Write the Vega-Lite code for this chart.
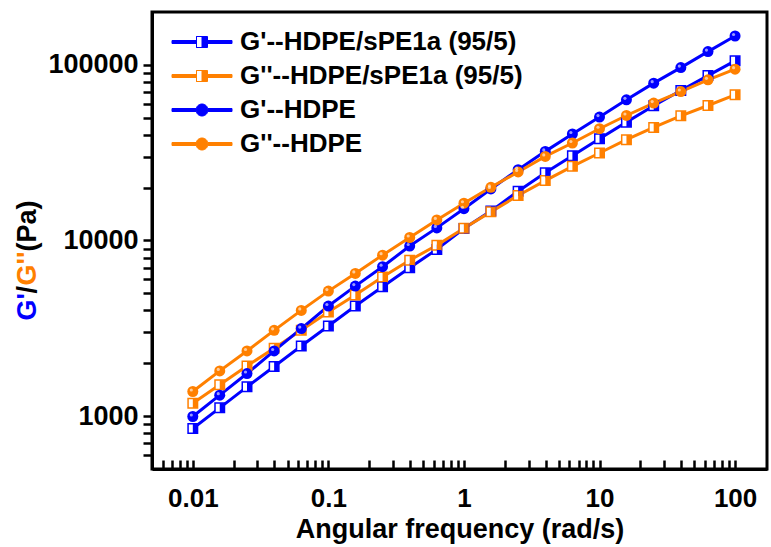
{
  "$schema": "https://vega.github.io/schema/vega-lite/v6.json",
  "autosize": {"type": "none"},
  "padding": {"left": 152, "top": 12, "right": 4, "bottom": 78},
  "width": 615,
  "height": 457,
  "background": "white",
  "config": {
    "view": {"stroke": "black", "strokeWidth": 3},
    "axis": {
      "domainColor": "black", "domainWidth": 3,
      "labelFont": "Liberation Sans", "labelFontWeight": "bold", "labelFontSize": 26, "labelColor": "black",
      "titleFont": "Liberation Sans", "titleFontWeight": "bold", "titleFontSize": 27, "titleColor": "black",
      "grid": false
    },
    "legend": {"labelFont": "Liberation Sans", "labelFontWeight": "bold", "labelFontSize": 26, "labelColor": "black"}
  },
  "datasets": {
    "d": [
      {"f":0.01,"v":851,"s":"G'--HDPE/sPE1a (95/5)","m":"sq"},
      {"f":0.0158,"v":1115,"s":"G'--HDPE/sPE1a (95/5)","m":"sq"},
      {"f":0.0251,"v":1468,"s":"G'--HDPE/sPE1a (95/5)","m":"sq"},
      {"f":0.0398,"v":1915,"s":"G'--HDPE/sPE1a (95/5)","m":"sq"},
      {"f":0.0631,"v":2510,"s":"G'--HDPE/sPE1a (95/5)","m":"sq"},
      {"f":0.1,"v":3260,"s":"G'--HDPE/sPE1a (95/5)","m":"sq"},
      {"f":0.158,"v":4236,"s":"G'--HDPE/sPE1a (95/5)","m":"sq"},
      {"f":0.251,"v":5460,"s":"G'--HDPE/sPE1a (95/5)","m":"sq"},
      {"f":0.398,"v":7000,"s":"G'--HDPE/sPE1a (95/5)","m":"sq"},
      {"f":0.631,"v":8900,"s":"G'--HDPE/sPE1a (95/5)","m":"sq"},
      {"f":1,"v":11700,"s":"G'--HDPE/sPE1a (95/5)","m":"sq"},
      {"f":1.58,"v":14700,"s":"G'--HDPE/sPE1a (95/5)","m":"sq"},
      {"f":2.51,"v":19100,"s":"G'--HDPE/sPE1a (95/5)","m":"sq"},
      {"f":3.98,"v":24300,"s":"G'--HDPE/sPE1a (95/5)","m":"sq"},
      {"f":6.31,"v":30400,"s":"G'--HDPE/sPE1a (95/5)","m":"sq"},
      {"f":10,"v":38000,"s":"G'--HDPE/sPE1a (95/5)","m":"sq"},
      {"f":15.8,"v":47200,"s":"G'--HDPE/sPE1a (95/5)","m":"sq"},
      {"f":25.1,"v":58500,"s":"G'--HDPE/sPE1a (95/5)","m":"sq"},
      {"f":39.8,"v":71400,"s":"G'--HDPE/sPE1a (95/5)","m":"sq"},
      {"f":63.1,"v":86900,"s":"G'--HDPE/sPE1a (95/5)","m":"sq"},
      {"f":100,"v":105400,"s":"G'--HDPE/sPE1a (95/5)","m":"sq"},
      {"f":0.01,"v":1185,"s":"G''--HDPE/sPE1a (95/5)","m":"sq"},
      {"f":0.0158,"v":1507,"s":"G''--HDPE/sPE1a (95/5)","m":"sq"},
      {"f":0.0251,"v":1931,"s":"G''--HDPE/sPE1a (95/5)","m":"sq"},
      {"f":0.0398,"v":2434,"s":"G''--HDPE/sPE1a (95/5)","m":"sq"},
      {"f":0.0631,"v":3080,"s":"G''--HDPE/sPE1a (95/5)","m":"sq"},
      {"f":0.1,"v":3915,"s":"G''--HDPE/sPE1a (95/5)","m":"sq"},
      {"f":0.158,"v":4890,"s":"G''--HDPE/sPE1a (95/5)","m":"sq"},
      {"f":0.251,"v":6190,"s":"G''--HDPE/sPE1a (95/5)","m":"sq"},
      {"f":0.398,"v":7720,"s":"G''--HDPE/sPE1a (95/5)","m":"sq"},
      {"f":0.631,"v":9400,"s":"G''--HDPE/sPE1a (95/5)","m":"sq"},
      {"f":1,"v":11750,"s":"G''--HDPE/sPE1a (95/5)","m":"sq"},
      {"f":1.58,"v":14560,"s":"G''--HDPE/sPE1a (95/5)","m":"sq"},
      {"f":2.51,"v":18030,"s":"G''--HDPE/sPE1a (95/5)","m":"sq"},
      {"f":3.98,"v":21930,"s":"G''--HDPE/sPE1a (95/5)","m":"sq"},
      {"f":6.31,"v":26430,"s":"G''--HDPE/sPE1a (95/5)","m":"sq"},
      {"f":10,"v":31500,"s":"G''--HDPE/sPE1a (95/5)","m":"sq"},
      {"f":15.8,"v":37500,"s":"G''--HDPE/sPE1a (95/5)","m":"sq"},
      {"f":25.1,"v":44000,"s":"G''--HDPE/sPE1a (95/5)","m":"sq"},
      {"f":39.8,"v":51300,"s":"G''--HDPE/sPE1a (95/5)","m":"sq"},
      {"f":63.1,"v":58700,"s":"G''--HDPE/sPE1a (95/5)","m":"sq"},
      {"f":100,"v":67500,"s":"G''--HDPE/sPE1a (95/5)","m":"sq"},
      {"f":0.01,"v":995,"s":"G'--HDPE","m":"ci"},
      {"f":0.0158,"v":1316,"s":"G'--HDPE","m":"ci"},
      {"f":0.0251,"v":1748,"s":"G'--HDPE","m":"ci"},
      {"f":0.0398,"v":2350,"s":"G'--HDPE","m":"ci"},
      {"f":0.0631,"v":3150,"s":"G'--HDPE","m":"ci"},
      {"f":0.1,"v":4236,"s":"G'--HDPE","m":"ci"},
      {"f":0.158,"v":5500,"s":"G'--HDPE","m":"ci"},
      {"f":0.251,"v":7093,"s":"G'--HDPE","m":"ci"},
      {"f":0.398,"v":9300,"s":"G'--HDPE","m":"ci"},
      {"f":0.631,"v":11800,"s":"G'--HDPE","m":"ci"},
      {"f":1,"v":15170,"s":"G'--HDPE","m":"ci"},
      {"f":1.58,"v":19660,"s":"G'--HDPE","m":"ci"},
      {"f":2.51,"v":25300,"s":"G'--HDPE","m":"ci"},
      {"f":3.98,"v":32170,"s":"G'--HDPE","m":"ci"},
      {"f":6.31,"v":40400,"s":"G'--HDPE","m":"ci"},
      {"f":10,"v":50450,"s":"G'--HDPE","m":"ci"},
      {"f":15.8,"v":63250,"s":"G'--HDPE","m":"ci"},
      {"f":25.1,"v":78700,"s":"G'--HDPE","m":"ci"},
      {"f":39.8,"v":96500,"s":"G'--HDPE","m":"ci"},
      {"f":63.1,"v":119000,"s":"G'--HDPE","m":"ci"},
      {"f":100,"v":146000,"s":"G'--HDPE","m":"ci"},
      {"f":0.01,"v":1381,"s":"G''--HDPE","m":"ci"},
      {"f":0.0158,"v":1809,"s":"G''--HDPE","m":"ci"},
      {"f":0.0251,"v":2350,"s":"G''--HDPE","m":"ci"},
      {"f":0.0398,"v":3080,"s":"G''--HDPE","m":"ci"},
      {"f":0.0631,"v":4000,"s":"G''--HDPE","m":"ci"},
      {"f":0.1,"v":5150,"s":"G''--HDPE","m":"ci"},
      {"f":0.158,"v":6493,"s":"G''--HDPE","m":"ci"},
      {"f":0.251,"v":8255,"s":"G''--HDPE","m":"ci"},
      {"f":0.398,"v":10400,"s":"G''--HDPE","m":"ci"},
      {"f":0.631,"v":13100,"s":"G''--HDPE","m":"ci"},
      {"f":1,"v":16300,"s":"G''--HDPE","m":"ci"},
      {"f":1.58,"v":20080,"s":"G''--HDPE","m":"ci"},
      {"f":2.51,"v":24560,"s":"G''--HDPE","m":"ci"},
      {"f":3.98,"v":30100,"s":"G''--HDPE","m":"ci"},
      {"f":6.31,"v":35900,"s":"G''--HDPE","m":"ci"},
      {"f":10,"v":43300,"s":"G''--HDPE","m":"ci"},
      {"f":15.8,"v":51500,"s":"G''--HDPE","m":"ci"},
      {"f":25.1,"v":60600,"s":"G''--HDPE","m":"ci"},
      {"f":39.8,"v":70500,"s":"G''--HDPE","m":"ci"},
      {"f":63.1,"v":82200,"s":"G''--HDPE","m":"ci"},
      {"f":100,"v":94500,"s":"G''--HDPE","m":"ci"}
    ]
  },
  "data": {"name": "d"},
  "resolve": {"axis": {"y": "independent"}},
  "layer": [
    {
      "mark": {"type": "line", "strokeWidth": 3},
      "encoding": {
        "x": {
          "field": "f", "type": "quantitative",
          "scale": {"type": "log", "domain": [0.005, 172], "nice": false},
          "axis": {
            "orient": "bottom",
            "ticks": true, "tickColor": "black", "tickWidth": 2.5,
            "title": "Angular frequency (rad/s)",
            "titleY": 68, "titleBaseline": "alphabetic",
            "values": [0.005,0.006,0.007,0.008,0.009,0.01,0.02,0.03,0.04,0.05,0.06,0.07,0.08,0.09,0.1,0.2,0.3,0.4,0.5,0.6,0.7,0.8,0.9,1,2,3,4,5,6,7,8,9,10,20,30,40,50,60,70,80,90,100],
            "labelExpr": "abs(log(datum.value)/LN10 - round(log(datum.value)/LN10)) < 0.000001 ? format(datum.value, '~g') : ''",
            "tickSize": -9,
            "encode": {
              "ticks": {
                "update": {
                  "y": {"value": 0},
                  "y2": {"signal": "abs(log(datum.value)/LN10 - round(log(datum.value)/LN10)) < 0.000001 ? -9 : -5"},
                  "opacity": {"value": 1},
                  "strokeOpacity": {"value": 1},
                  "stroke": {"value": "black"},
                  "strokeWidth": {"value": 2.5}
                }
              }
            },
            "labelPadding": 25,
            "labelBaseline": "top",
            "labelFlush": false,
            "labelOverlap": false
          }
        },
        "y": {
          "field": "v", "type": "quantitative",
          "scale": {"type": "log", "domain": [500, 200000], "nice": false},
          "axis": {
            "orient": "left",
            "ticks": true, "tickColor": "black", "tickWidth": 2.5,
            "values": [600,700,800,900,1000,2000,3000,4000,5000,6000,7000,8000,9000,10000,20000,30000,40000,50000,60000,70000,80000,90000,100000],
            "labelExpr": "abs(log(datum.value)/LN10 - round(log(datum.value)/LN10)) < 0.000001 ? format(datum.value, 'd') : ''",
            "tickSize": 9,
            "encode": {
              "ticks": {
                "update": {
                  "x": {"value": 0},
                  "x2": {"signal": "abs(log(datum.value)/LN10 - round(log(datum.value)/LN10)) < 0.000001 ? -9 : -5"},
                  "opacity": {"value": 1},
                  "strokeOpacity": {"value": 1},
                  "stroke": {"value": "black"},
                  "strokeWidth": {"value": 2.5}
                }
              }
            },
            "labelPadding": 5,
            "labelFontSize": 27,
            "labelFlush": false,
            "labelOverlap": false,
            "title": "(Pa)",
            "titleAngle": -90, "titleAlign": "left", "titleBaseline": "alphabetic",
            "titleX": -117, "titleY": 239
          }
        },
        "color": {
          "field": "s", "type": "nominal",
          "scale": {
            "domain": ["G'--HDPE/sPE1a (95/5)", "G''--HDPE/sPE1a (95/5)", "G'--HDPE", "G''--HDPE"],
            "range": ["#0000FF", "#FF8000", "#0000FF", "#FF8000"]
          },
          "legend": {
            "title": null,
            "orient": "none",
            "legendX": 37, "legendY": 17,
            "padding": 0,
            "symbolSize": 400,
            "labelOffset": 25,
            "rowPadding": 8,
            "labelLimit": 0,
            "encode": {
              "symbols": {
                "update": {
                  "shape": {"signal": "indexof(datum.value, 'sPE1a') >= 0 ? 'M-3,-0.15 L-0.55,-0.15 L-0.55,0.15 L-3,0.15 Z M0.55,-0.15 L3,-0.15 L3,0.15 L0.55,0.15 Z M-0.55,-0.55 L0.55,-0.55 L0.55,0.55 L-0.55,0.55 Z M-0.55,-0.55 L-0.55,0.55 L0,0.55 L0,-0.55 Z' : 'M-3,-0.15 L-0.6,-0.15 L-0.6,0.15 L-3,0.15 Z M0.6,-0.15 L3,-0.15 L3,0.15 L0.6,0.15 Z M0.6,0 A0.6,0.6 0 1,1 -0.6,0 A0.6,0.6 0 1,1 0.6,0 Z'"},
                  "fill": {"scale": "color", "field": "value"},
                  "stroke": {"scale": "color", "field": "value"},
                  "strokeWidth": {"value": 1},
                  "opacity": {"value": 1},
                  "fillOpacity": {"value": 1}
                }
              }
            }
          }
        }
      }
    },
    {
      "transform": [{"filter": "datum.m == 'sq'"}],
      "mark": {"type": "point", "shape": "square", "filled": false, "fill": "white", "size": 90, "strokeWidth": 1.5, "opacity": 1},
      "encoding": {
        "x": {"field": "f", "type": "quantitative"},
        "y": {
          "field": "v", "type": "quantitative",
          "axis": {
            "orient": "left", "labels": false, "ticks": false, "domain": false,
            "title": "G''", "titleColor": "#FF8000",
            "titleAngle": -90, "titleAlign": "left", "titleBaseline": "alphabetic",
            "titleX": -117, "titleY": 273
          }
        },
        "color": {"field": "s", "type": "nominal", "legend": null}
      }
    },
    {
      "transform": [{"filter": "datum.m == 'sq'"}],
      "mark": {"type": "point", "shape": "M0,-1 L1,-1 L1,1 L0,1 Z", "filled": true, "size": 90, "strokeWidth": 0, "opacity": 1},
      "encoding": {
        "x": {"field": "f", "type": "quantitative"},
        "y": {
          "field": "v", "type": "quantitative",
          "axis": {
            "orient": "left", "labels": false, "ticks": false, "domain": false,
            "title": "/", "titleColor": "black",
            "titleAngle": -90, "titleAlign": "left", "titleBaseline": "alphabetic",
            "titleX": -117, "titleY": 281
          }
        },
        "color": {"field": "s", "type": "nominal", "legend": null}
      }
    },
    {
      "transform": [{"filter": "datum.m == 'ci'"}],
      "mark": {"type": "point", "shape": "circle", "filled": true, "size": 121, "opacity": 1},
      "encoding": {
        "x": {"field": "f", "type": "quantitative"},
        "y": {
          "field": "v", "type": "quantitative",
          "axis": {
            "orient": "left", "labels": false, "ticks": false, "domain": false,
            "title": "G'", "titleColor": "#0000FF",
            "titleAngle": -90, "titleAlign": "left", "titleBaseline": "alphabetic",
            "titleX": -117, "titleY": 308
          }
        },
        "color": {"field": "s", "type": "nominal", "legend": null}
      }
    },
    {
      "transform": [{"filter": "datum.m == 'ci'"}],
      "mark": {"type": "point", "shape": "circle", "filled": true, "size": 10, "color": "white", "opacity": 0.6, "xOffset": -1.5, "yOffset": -1.5},
      "encoding": {
        "x": {"field": "f", "type": "quantitative"},
        "y": {"field": "v", "type": "quantitative", "axis": null}
      }
    }
  ]
}
